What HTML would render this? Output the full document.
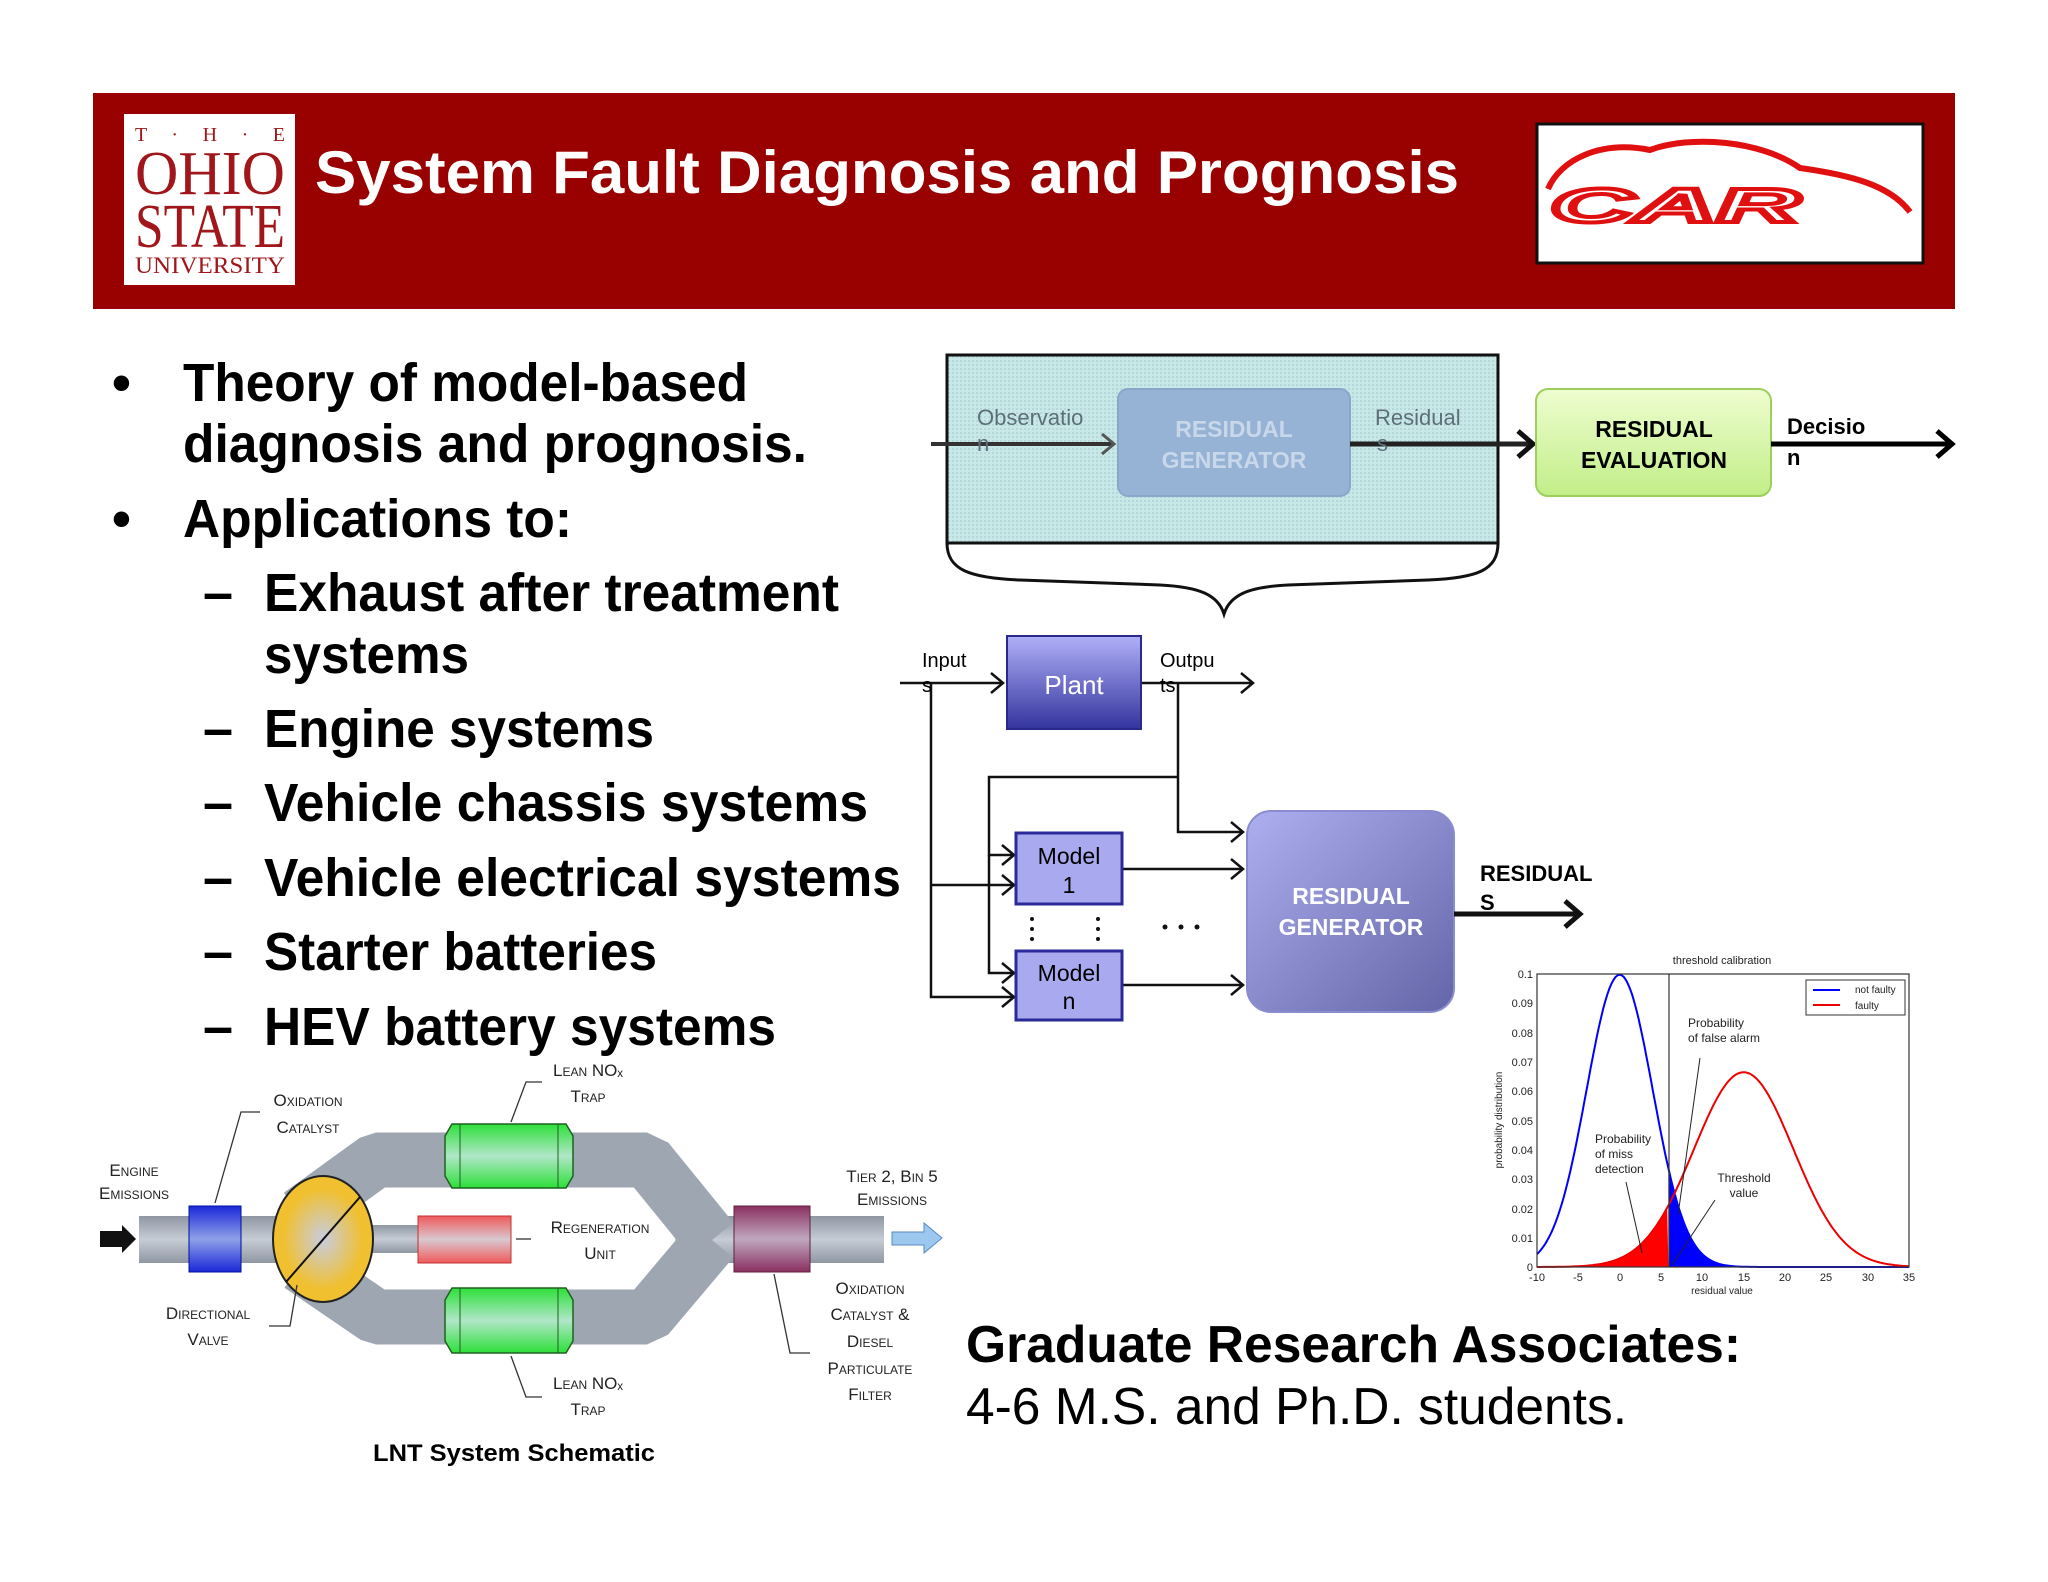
<!DOCTYPE html>
<html><head><meta charset="utf-8"><style>
html,body{margin:0;padding:0;background:#fff}
svg{display:block}
text{font-family:"Liberation Sans",Arial,sans-serif}
text.serif{font-family:"Liberation Serif",serif}
.b{font-weight:bold}
.sc{font-variant:small-caps;font-size:17px;fill:#222;text-anchor:middle}
</style></head><body>
<svg width="2048" height="1582" viewBox="0 0 2048 1582" xmlns="http://www.w3.org/2000/svg">
<defs>
<linearGradient id="plant" x1="0" y1="0" x2="0" y2="1"><stop offset="0" stop-color="#b0b0f8"/><stop offset="1" stop-color="#34349e"/></linearGradient>
<linearGradient id="rg" x1="0" y1="0" x2="1" y2="1"><stop offset="0" stop-color="#adaff0"/><stop offset="1" stop-color="#6365a8"/></linearGradient>
<linearGradient id="green" x1="0" y1="0" x2="0" y2="1"><stop offset="0" stop-color="#eefdd0"/><stop offset="1" stop-color="#c2ee88"/></linearGradient>
<linearGradient id="pipe" x1="0" y1="0" x2="0" y2="1"><stop offset="0" stop-color="#8f97a3"/><stop offset="0.5" stop-color="#c6ccd5"/><stop offset="1" stop-color="#8f97a3"/></linearGradient>
<linearGradient id="gb" x1="0" y1="0" x2="0" y2="1"><stop offset="0" stop-color="#2ee03a"/><stop offset="0.5" stop-color="#b0e6c8"/><stop offset="1" stop-color="#2ee03a"/></linearGradient>
<linearGradient id="bb" x1="0" y1="0" x2="0" y2="1"><stop offset="0" stop-color="#1a28d8"/><stop offset="0.5" stop-color="#8fa0e8"/><stop offset="1" stop-color="#1a28d8"/></linearGradient>
<linearGradient id="rb" x1="0" y1="0" x2="0" y2="1"><stop offset="0" stop-color="#f05a5a"/><stop offset="0.5" stop-color="#d8c8d0"/><stop offset="1" stop-color="#f05a5a"/></linearGradient>
<linearGradient id="pb" x1="0" y1="0" x2="0" y2="1"><stop offset="0" stop-color="#8a3060"/><stop offset="0.5" stop-color="#c0a8c0"/><stop offset="1" stop-color="#8a3060"/></linearGradient>
<radialGradient id="yel"><stop offset="0" stop-color="#c8cce0"/><stop offset="0.8" stop-color="#f0c030"/></radialGradient>
<pattern id="dots" width="4" height="4" patternUnits="userSpaceOnUse"><rect width="4" height="4" fill="#c8e8e8"/><rect width="2" height="2" fill="#b4d8da"/></pattern>
</defs>

<!-- header -->
<rect x="93" y="93" width="1862" height="216" fill="#990000"/>
<rect x="124" y="114" width="171" height="171" fill="#fff"/>
<g fill="#a0161a" text-anchor="middle">
<text class="serif" x="210" y="141" font-size="20" textLength="150" lengthAdjust="spacing">T · H · E</text>
<text class="serif" x="210" y="194" font-size="62" textLength="150" lengthAdjust="spacingAndGlyphs">OHIO</text>
<text class="serif" x="210" y="247" font-size="62" textLength="150" lengthAdjust="spacingAndGlyphs">STATE</text>
<text class="serif" x="210" y="273" font-size="23" textLength="150" lengthAdjust="spacingAndGlyphs">UNIVERSITY</text>
</g>
<text x="315" y="193" font-size="60" class="b" fill="#fff" textLength="1144" lengthAdjust="spacingAndGlyphs">System Fault Diagnosis and Prognosis</text>
<rect x="1537" y="124" width="386" height="139" fill="#fff" stroke="#111" stroke-width="3"/>
<path d="M1548,189 C1560,160 1600,140 1650,150 C1690,135 1760,140 1800,168 C1850,175 1890,185 1910,212" fill="none" stroke="#e01010" stroke-width="6"/>
<text x="1550" y="222" font-size="48" font-style="italic" class="b" fill="#fff" stroke="#e01010" stroke-width="4" textLength="250" lengthAdjust="spacingAndGlyphs">CAR</text>

<!-- bullets -->
<g class="b" font-size="54" fill="#000">
<text x="112" y="401">•</text>
<text x="183" y="401" textLength="565" lengthAdjust="spacingAndGlyphs">Theory of model-based</text>
<text x="183" y="462" textLength="624" lengthAdjust="spacingAndGlyphs">diagnosis and prognosis.</text>
<text x="112" y="537">•</text>
<text x="183" y="537" textLength="389" lengthAdjust="spacingAndGlyphs">Applications to:</text>
<g>
<text x="203" y="611">–</text><text x="264" y="611" textLength="575" lengthAdjust="spacingAndGlyphs">Exhaust after treatment</text>
<text x="264" y="673" textLength="205" lengthAdjust="spacingAndGlyphs">systems</text>
<text x="203" y="747">–</text><text x="264" y="747" textLength="390" lengthAdjust="spacingAndGlyphs">Engine systems</text>
<text x="203" y="821">–</text><text x="264" y="821" textLength="604" lengthAdjust="spacingAndGlyphs">Vehicle chassis systems</text>
<text x="203" y="896">–</text><text x="264" y="896" textLength="637" lengthAdjust="spacingAndGlyphs">Vehicle electrical systems</text>
<text x="203" y="970">–</text><text x="264" y="970" textLength="393" lengthAdjust="spacingAndGlyphs">Starter batteries</text>
<text x="203" y="1045">–</text><text x="264" y="1045" textLength="512" lengthAdjust="spacingAndGlyphs">HEV battery systems</text>
</g></g>

<!-- top diagram -->
<rect x="947" y="355" width="551" height="188" fill="url(#dots)" stroke="#111" stroke-width="3"/>
<line x1="931" y1="444" x2="1112" y2="444" stroke="#333" stroke-width="4"/>
<path d="M1102,434 L1114,444 L1102,454" fill="none" stroke="#555" stroke-width="3"/>
<rect x="1118" y="389" width="232" height="107" rx="10" fill="#96b2d4" stroke="#8aa6c8" stroke-width="2"/>
<g fill="#c8d8ea" font-size="23" class="b" text-anchor="middle">
<text x="1234" y="437">RESIDUAL</text><text x="1234" y="468">GENERATOR</text></g>
<line x1="1350" y1="444" x2="1530" y2="444" stroke="#222" stroke-width="5"/>
<path d="M1518,431 L1533,444 L1518,457" fill="none" stroke="#111" stroke-width="5"/>
<g fill="#5d6e78" font-size="22"><text x="977" y="425">Observatio</text><text x="977" y="451">n</text>
<text x="1375" y="425">Residual</text><text x="1377" y="451">s</text></g>
<rect x="1536" y="389" width="235" height="107" rx="12" fill="url(#green)" stroke="#9ccf5c" stroke-width="2"/>
<g font-size="23" class="b" text-anchor="middle" fill="#000"><text x="1654" y="437">RESIDUAL</text><text x="1654" y="468">EVALUATION</text></g>
<line x1="1771" y1="444" x2="1950" y2="444" stroke="#000" stroke-width="5"/>
<path d="M1937,431 L1952,444 L1937,457" fill="none" stroke="#000" stroke-width="5"/>
<g font-size="22" class="b"><text x="1787" y="434">Decisio</text><text x="1787" y="465">n</text></g>
<path d="M947,543 C947,570 970,578 1020,580 L1160,585 C1200,587 1218,595 1224,614 C1230,595 1248,587 1288,585 L1428,580 C1478,578 1498,570 1498,543" fill="none" stroke="#111" stroke-width="3"/>

<!-- plant/model diagram -->
<g stroke="#111" stroke-width="2.5" fill="none">
<line x1="900" y1="683" x2="1003" y2="683"/><path d="M991,673 L1003,683 L991,693"/>
<line x1="1141" y1="683" x2="1253" y2="683"/><path d="M1241,673 L1253,683 L1241,693"/>
<polyline points="931,683 931,997 1014,997"/><path d="M1002,987 L1014,997 L1002,1007"/>
<line x1="931" y1="885" x2="1014" y2="885"/><path d="M1002,875 L1014,885 L1002,895"/>
<polyline points="1014,855 989,855 989,777 1178,777"/><path d="M1002,845 L1014,855 L1002,865"/>
<polyline points="989,855 989,973 1014,973"/><path d="M1002,963 L1014,973 L1002,983"/>
<polyline points="1178,683 1178,832 1243,832"/><path d="M1231,822 L1243,832 L1231,842"/>
<line x1="1122" y1="869" x2="1243" y2="869"/><path d="M1231,859 L1243,869 L1231,879"/>
<line x1="1122" y1="985" x2="1243" y2="985"/><path d="M1231,975 L1243,985 L1231,995"/>
</g>
<rect x="1007" y="636" width="134" height="93" fill="url(#plant)" stroke="#2a2a8a" stroke-width="2"/>
<text x="1074" y="694" font-size="26" fill="#fff" text-anchor="middle">Plant</text>
<g font-size="20"><text x="922" y="667">Input</text><text x="922" y="692">s</text><text x="1160" y="667">Outpu</text><text x="1160" y="692">ts</text></g>
<rect x="1016" y="833" width="106" height="71" fill="#a9a9ef" stroke="#2a2a9a" stroke-width="3"/>
<rect x="1016" y="951" width="106" height="69" fill="#a9a9ef" stroke="#2a2a9a" stroke-width="3"/>
<g font-size="23" text-anchor="middle"><text x="1069" y="864">Model</text><text x="1069" y="893">1</text>
<text x="1069" y="981">Model</text><text x="1069" y="1009">n</text></g>
<g fill="#111"><circle cx="1032" cy="919" r="2"/><circle cx="1032" cy="929" r="2"/><circle cx="1032" cy="939" r="2"/>
<circle cx="1098" cy="919" r="2"/><circle cx="1098" cy="929" r="2"/><circle cx="1098" cy="939" r="2"/>
<circle cx="1165" cy="927" r="2.5"/><circle cx="1181" cy="927" r="2.5"/><circle cx="1197" cy="927" r="2.5"/></g>
<rect x="1247" y="811" width="207" height="201" rx="24" fill="url(#rg)" stroke="#8a8cd0" stroke-width="2"/>
<g font-size="23" class="b" fill="#fff" text-anchor="middle"><text x="1351" y="904">RESIDUAL</text><text x="1351" y="935">GENERATOR</text></g>
<line x1="1454" y1="914" x2="1578" y2="914" stroke="#111" stroke-width="5"/>
<path d="M1565,901 L1580,914 L1565,927" fill="none" stroke="#111" stroke-width="5"/>
<g font-size="22" class="b"><text x="1480" y="881">RESIDUAL</text><text x="1480" y="910">S</text></g>

<!-- chart -->
<text x="1722" y="964" font-size="11" text-anchor="middle" fill="#222">threshold calibration</text>
<g id="chart"></g>
<rect x="1537" y="974" width="372" height="293" fill="none" stroke="#333" stroke-width="1.2"/>
<line x1="1669" y1="974" x2="1669" y2="1267" stroke="#333" stroke-width="1.2"/>
<g font-size="11" fill="#222" text-anchor="end">
<text x="1533" y="1271">0</text><text x="1533" y="1242">0.01</text><text x="1533" y="1213">0.02</text><text x="1533" y="1183">0.03</text><text x="1533" y="1154">0.04</text><text x="1533" y="1125">0.05</text><text x="1533" y="1095">0.06</text><text x="1533" y="1066">0.07</text><text x="1533" y="1037">0.08</text><text x="1533" y="1007">0.09</text><text x="1533" y="978">0.1</text></g>
<g font-size="11" fill="#222" text-anchor="middle">
<text x="1537" y="1281">-10</text><text x="1578" y="1281">-5</text><text x="1620" y="1281">0</text><text x="1661" y="1281">5</text><text x="1702" y="1281">10</text><text x="1744" y="1281">15</text><text x="1785" y="1281">20</text><text x="1826" y="1281">25</text><text x="1868" y="1281">30</text><text x="1909" y="1281">35</text>
<text x="1722" y="1294" font-size="10">residual value</text>
<text transform="translate(1502,1120) rotate(-90)" font-size="10">probability distribution</text></g>
<rect x="1806" y="980" width="99" height="35" fill="#fff" stroke="#333" stroke-width="1"/>
<line x1="1813" y1="990" x2="1840" y2="990" stroke="#00f" stroke-width="2"/><line x1="1813" y1="1005" x2="1840" y2="1005" stroke="#e00" stroke-width="2"/>
<g font-size="10" fill="#222"><text x="1855" y="993">not faulty</text><text x="1855" y="1009">faulty</text>
<text x="1688" y="1027" font-size="12">Probability</text><text x="1688" y="1042" font-size="12">of false alarm</text>
<text x="1595" y="1143" font-size="12">Probability</text><text x="1595" y="1158" font-size="12">of miss</text><text x="1595" y="1173" font-size="12">detection</text>
<text x="1744" y="1182" font-size="12" text-anchor="middle">Threshold</text><text x="1744" y="1197" font-size="12" text-anchor="middle">value</text></g>
<g stroke="#222" stroke-width="1"><line x1="1678" y1="1215" x2="1700" y2="1058"/><line x1="1642" y1="1253" x2="1626" y2="1182"/><line x1="1715" y1="1200" x2="1672" y2="1265"/></g>

<!-- LNT schematic -->
<rect x="139" y="1216" width="140" height="47" fill="url(#pipe)"/>
<rect x="675" y="1216" width="209" height="47" fill="url(#pipe)"/>
<rect x="370" y="1225" width="50" height="28" fill="url(#pipe)"/>
<polyline points="300,1215 376,1160 647,1160 712,1240" fill="none" stroke="#9ea6b2" stroke-width="55" stroke-linejoin="bevel"/>
<polyline points="300,1265 376,1317 647,1317 712,1240" fill="none" stroke="#9ea6b2" stroke-width="55" stroke-linejoin="bevel"/>
<path d="M100,1231 L122,1231 L122,1225 L136,1239 L122,1253 L122,1247 L100,1247Z" fill="#111"/>
<rect x="189" y="1206" width="52" height="66" fill="url(#bb)" stroke="#0010a0" stroke-width="1"/>
<path d="M452,1124 L566,1124 L573,1136 L573,1176 L566,1188 L452,1188 L445,1176 L445,1136Z" fill="url(#gb)" stroke="#206020" stroke-width="1.5"/>
<line x1="460" y1="1124" x2="460" y2="1188" stroke="#206020"/><line x1="558" y1="1124" x2="558" y2="1188" stroke="#206020"/>
<path d="M452,1288 L566,1288 L573,1300 L573,1341 L566,1353 L452,1353 L445,1341 L445,1300Z" fill="url(#gb)" stroke="#206020" stroke-width="1.5"/>
<line x1="460" y1="1288" x2="460" y2="1353" stroke="#206020"/><line x1="558" y1="1288" x2="558" y2="1353" stroke="#206020"/>
<rect x="418" y="1216" width="93" height="47" fill="url(#rb)" stroke="#c03030" stroke-width="1"/>
<rect x="734" y="1206" width="76" height="66" fill="url(#pb)" stroke="#602040" stroke-width="1"/>
<ellipse cx="323" cy="1239" rx="50" ry="63" fill="url(#yel)" stroke="#222" stroke-width="2"/>
<line x1="360" y1="1197" x2="286" y2="1282" stroke="#111" stroke-width="2"/>
<path d="M892,1232 L924,1232 L924,1223 L942,1238 L924,1253 L924,1245 L892,1245Z" fill="#9cc8f0" stroke="#5a8ac0"/>
<g stroke="#333" stroke-width="1.3" fill="none">
<polyline points="260,1112 241,1112 215,1203"/><polyline points="542,1082 526,1082 511,1122"/>
<polyline points="269,1326 290,1326 297,1285"/><polyline points="542,1397 526,1397 511,1356"/>
<polyline points="810,1353 790,1353 774,1274"/><line x1="531" y1="1239" x2="516" y2="1239"/></g>
<g class="sc">
<text x="134" y="1176">Engine</text><text x="134" y="1199">Emissions</text>
<text x="308" y="1106">Oxidation</text><text x="308" y="1133">Catalyst</text>
<text x="588" y="1076">Lean NOₓ</text><text x="588" y="1102">Trap</text>
<text x="892" y="1182">Tier 2, Bin 5</text><text x="892" y="1205">Emissions</text>
<text x="600" y="1233">Regeneration</text><text x="600" y="1259">Unit</text>
<text x="208" y="1319">Directional</text><text x="208" y="1345">Valve</text>
<text x="588" y="1389">Lean NOₓ</text><text x="588" y="1415">Trap</text>
<text x="870" y="1294">Oxidation</text><text x="870" y="1320">Catalyst &amp;</text><text x="870" y="1347">Diesel</text><text x="870" y="1374">Particulate</text><text x="870" y="1400">Filter</text>
</g>
<text x="514" y="1461" font-size="24" class="b" text-anchor="middle" textLength="282" lengthAdjust="spacingAndGlyphs">LNT System Schematic</text>

<text x="966" y="1362" font-size="52" class="b" textLength="775" lengthAdjust="spacingAndGlyphs">Graduate Research Associates:</text>
<text x="966" y="1424" font-size="52" textLength="661" lengthAdjust="spacingAndGlyphs">4-6 M.S. and Ph.D. students.</text>
</svg>
<script>
(function(){
var X=function(v){return 1537+(v+10)*372/45},Y=function(p){return 1267-p*2930};
function g(v,m,s){return Math.exp(-(v-m)*(v-m)/(2*s*s))/(s*Math.sqrt(2*Math.PI));}
function line(m,s,a,b){var d="";for(var v=a;v<=b+1e-9;v+=0.25){d+=(d?"L":"M")+X(v).toFixed(1)+","+Y(g(v,m,s)).toFixed(1);}return d;}
var t=5.9,ns="http://www.w3.org/2000/svg",c=document.getElementById("chart");
function p(d,f,st){var e=document.createElementNS(ns,"path");e.setAttribute("d",d);e.setAttribute("fill",f);if(st){e.setAttribute("stroke",st);e.setAttribute("stroke-width","2");}c.appendChild(e);}
p(line(15,6,-10,t)+"L"+X(t)+","+Y(0)+"L"+X(-10)+","+Y(0)+"Z","#f00");
p(line(0,4,t,35)+"L"+X(35)+","+Y(0)+"L"+X(t)+","+Y(0)+"Z","#00f");
p(line(0,4,-10,35),"none","#00f");
p(line(15,6,-10,35),"none","#e00");
})();
</script>
</body></html>
